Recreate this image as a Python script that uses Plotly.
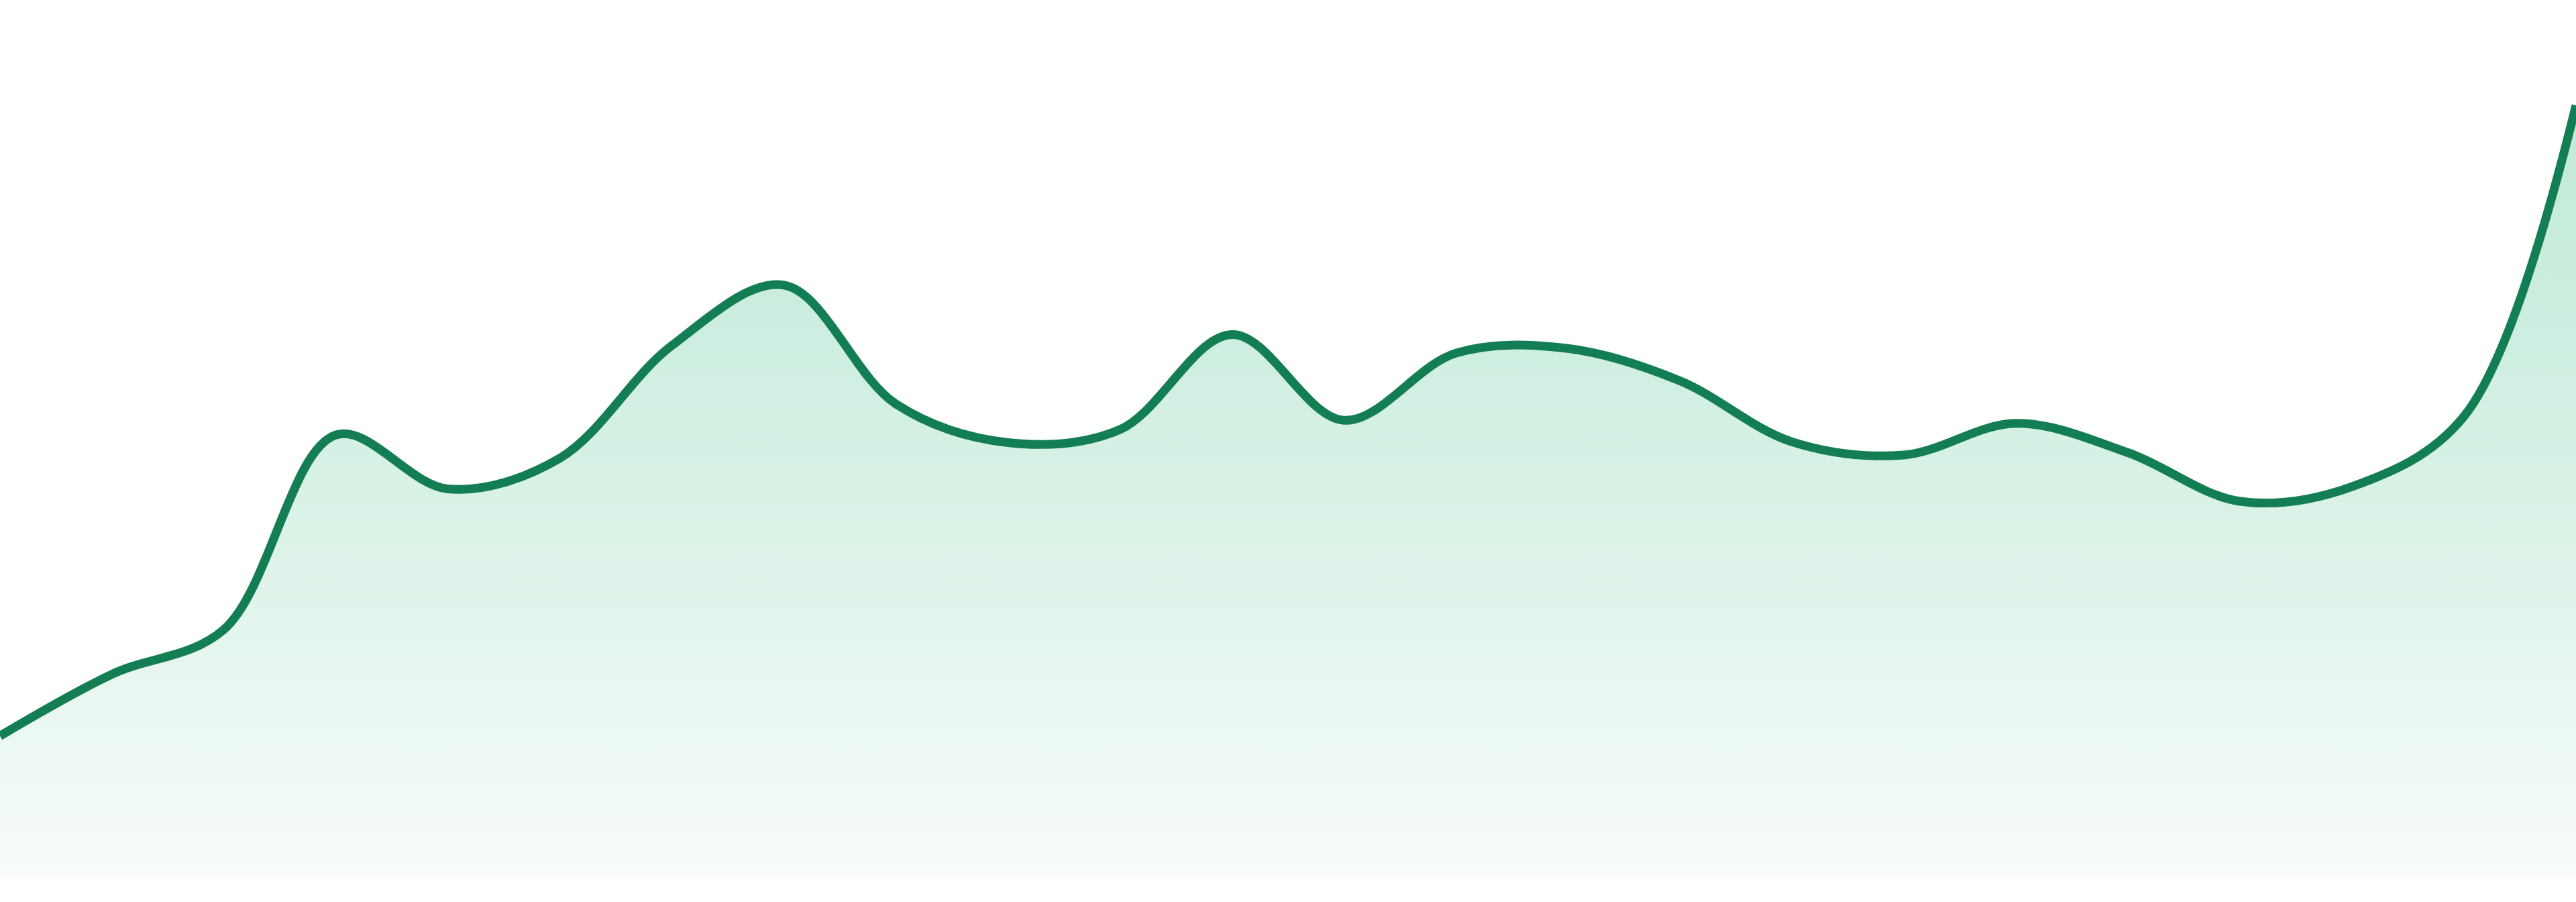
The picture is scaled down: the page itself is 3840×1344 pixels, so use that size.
import plotly.graph_objects as go

# Data
categories = list(range(24))
values = [18.3, 26.3, 32.1, 57.3, 50.3, 54.3, 68.9, 76.7, 61.3, 56.3, 58.0, 70.3,
          59.2, 67.9, 68.5, 64.3, 56.4, 54.7, 58.8, 55.0, 48.7, 50.6, 59.7, 100.0]

LINE_COLOR = "#137e53"

fig = go.Figure()
fig.add_trace(go.Scatter(
    x=categories,
    y=values,
    mode="lines",
    line=dict(color=LINE_COLOR, width=13, shape="spline", smoothing=1.0),
    fill="tozeroy",
    fillgradient=dict(
        type="vertical",
        start=0,
        stop=100,
        colorscale=[
            [0.0, "#f8fcfa"],
            [0.18, "#ecf8f2"],
            [0.44, "#dcf3e8"],
            [0.70, "#cdeee0"],
            [1.0, "#c2e9d7"],
        ],
    ),
    hoverinfo="skip",
    showlegend=False,
))

fig.update_layout(
    width=3840,
    height=1344,
    margin=dict(l=0, r=0, t=0, b=37, pad=0),
    paper_bgcolor="white",
    plot_bgcolor="white",
    showlegend=False,
    xaxis=dict(visible=False, range=[0, 23], fixedrange=True),
    yaxis=dict(visible=False, range=[0, 113.65], fixedrange=True),
)

fig.write_html("out.html", config={"displayModeBar": False},
               post_script="document.body.style.margin='0';document.body.style.overflow='hidden';")
